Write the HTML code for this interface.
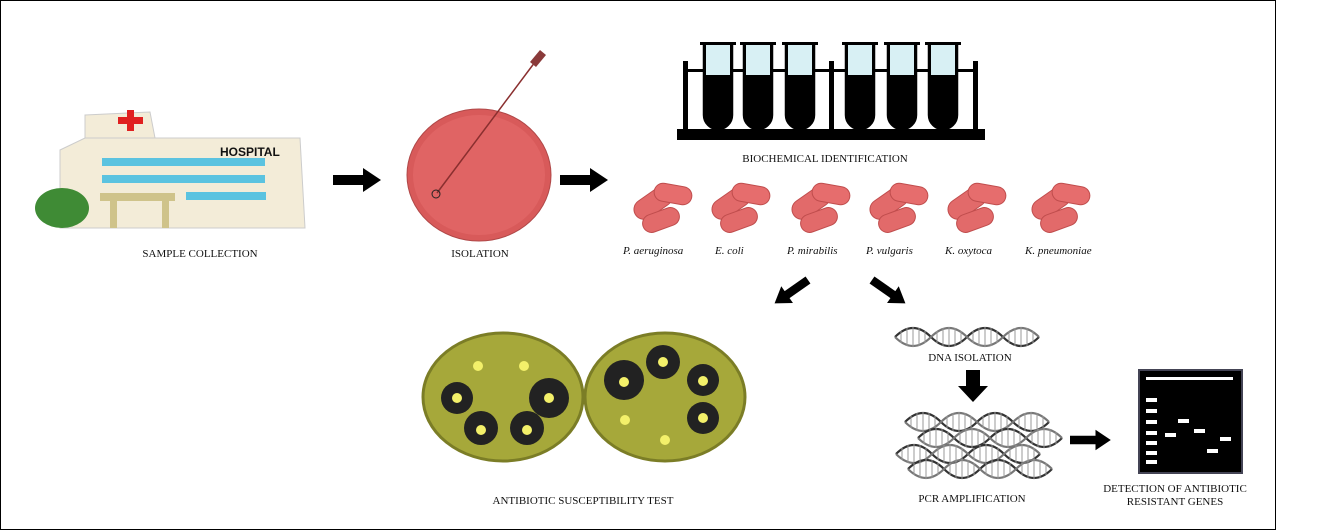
<!DOCTYPE html>
<html><head><style>
html,body{margin:0;padding:0;background:#fff;}
svg{display:block}
text{font-family:"Liberation Serif",serif;fill:#111}
</style></head><body>
<svg width="1328" height="531" viewBox="0 0 1328 531" xmlns="http://www.w3.org/2000/svg">
<defs>
<g id="bac">
 <rect x="-30" y="-14" width="42" height="20" rx="10" fill="#e26a6a" stroke="#c04d4d" transform="rotate(-35 -9 -4)"/>
 <rect x="-8" y="-22" width="38" height="18" rx="9" fill="#e66d6d" stroke="#c04d4d" transform="rotate(10 11 -13)"/>
 <rect x="-20" y="4" width="38" height="18" rx="9" fill="#e26a6a" stroke="#c04d4d" transform="rotate(-20 -1 13)"/>
</g>
<g id="dna" fill="none" stroke-width="2.2">
 <path d="M0 10 Q 18 -8 36 10 T 72 10 T 108 10 T 144 10" stroke="#333"/>
 <path d="M0 10 Q 18 28 36 10 T 72 10 T 108 10 T 144 10" stroke="#777"/>
 <path d="M6 4v12M12 1v18M18 0v20M24 1v18M30 4v12M42 4v12M48 1v18M54 0v20M60 1v18M66 4v12M78 4v12M84 1v18M90 0v20M96 1v18M102 4v12M114 4v12M120 1v18M126 0v20M132 1v18M138 4v12" stroke="#999" stroke-width="1"/>
</g>
<g id="arr"><polygon points="0,-5 30,-5 30,-12 48,0 30,12 30,5 0,5" fill="#000"/></g>
</defs>
<rect x="0.5" y="0.5" width="1275" height="529" fill="#fff" stroke="#000"/>

<!-- hospital -->
<polygon points="85,115 150,112 155,138 85,140" fill="#f3ecd8" stroke="#ccc"/>
<polygon points="60,150 85,138 300,138 305,228 60,228" fill="#f3ecd8" stroke="#ccc"/>
<rect x="118" y="117" width="25" height="7" fill="#e02020"/><rect x="127" y="110" width="7" height="21" fill="#e02020"/>
<text x="220" y="156" style="font-family:'Liberation Sans',sans-serif;font-weight:bold" font-size="12">HOSPITAL</text>
<rect x="102" y="158" width="163" height="8" fill="#5bc3e0"/>
<rect x="102" y="175" width="163" height="8" fill="#5bc3e0"/>
<rect x="186" y="192" width="80" height="8" fill="#5bc3e0"/>
<rect x="100" y="193" width="75" height="8" fill="#cfc38a"/>
<rect x="110" y="200" width="7" height="28" fill="#cfc38a"/><rect x="162" y="200" width="7" height="28" fill="#cfc38a"/>
<ellipse cx="62" cy="208" rx="27" ry="20" fill="#3f8b35"/>
<text x="200" y="257" font-size="11" text-anchor="middle">SAMPLE COLLECTION</text>

<use href="#arr" x="333" y="180"/>

<!-- petri -->
<ellipse cx="479" cy="175" rx="72" ry="66" fill="#d85a5a" stroke="#b04848"/>
<ellipse cx="479" cy="175" rx="66" ry="60" fill="#e06464"/>
<line x1="437" y1="193" x2="538" y2="58" stroke="#8a2f2f" stroke-width="1.5"/>
<polygon points="530,62 540,50 546,55 536,67" fill="#8a3a3a"/>
<circle cx="436" cy="194" r="4" fill="none" stroke="#222"/>
<text x="480" y="257" font-size="11" text-anchor="middle">ISOLATION</text>

<use href="#arr" x="560" y="180"/>

<!-- tubes -->
<rect x="677" y="129" width="308" height="11" fill="#000"/>
<rect x="683" y="61" width="5" height="70" fill="#000"/>
<rect x="829" y="61" width="5" height="70" fill="#000"/>
<rect x="973" y="61" width="5" height="70" fill="#000"/>
<rect x="683" y="69" width="295" height="3" fill="#000"/>
<g fill="#000">
<rect x="700" y="42" width="36" height="3"/><rect x="740" y="42" width="36" height="3"/><rect x="782" y="42" width="36" height="3"/>
<rect x="842" y="42" width="36" height="3"/><rect x="884" y="42" width="36" height="3"/><rect x="925" y="42" width="36" height="3"/>
</g>
<g stroke="#000" stroke-width="2.5">
<path d="M704 45v70a14 14 0 0 0 28 0v-70z" fill="#000"/><path d="M744 45v70a14 14 0 0 0 28 0v-70z" fill="#000"/><path d="M786 45v70a14 14 0 0 0 28 0v-70z" fill="#000"/>
<path d="M846 45v70a14 14 0 0 0 28 0v-70z" fill="#000"/><path d="M888 45v70a14 14 0 0 0 28 0v-70z" fill="#000"/><path d="M929 45v70a14 14 0 0 0 28 0v-70z" fill="#000"/>
</g>
<g fill="#d8f0f4">
<rect x="706" y="45" width="24" height="30"/><rect x="746" y="45" width="24" height="30"/><rect x="788" y="45" width="24" height="30"/>
<rect x="848" y="45" width="24" height="30"/><rect x="890" y="45" width="24" height="30"/><rect x="931" y="45" width="24" height="30"/>
</g>
<text x="825" y="162" font-size="11" text-anchor="middle">BIOCHEMICAL IDENTIFICATION</text>

<!-- bacteria -->
<use href="#bac" x="662" y="207"/><use href="#bac" x="740" y="207"/><use href="#bac" x="820" y="207"/>
<use href="#bac" x="898" y="207"/><use href="#bac" x="976" y="207"/><use href="#bac" x="1060" y="207"/>
<g font-style="italic" font-size="11">
<text x="623" y="254">P. aeruginosa</text><text x="715" y="254">E. coli</text><text x="787" y="254">P. mirabilis</text>
<text x="866" y="254">P. vulgaris</text><text x="945" y="254">K. oxytoca</text><text x="1025" y="254">K. pneumoniae</text>
</g>

<use href="#arr" transform="translate(808,280) rotate(145) scale(0.85)"/>
<use href="#arr" transform="translate(872,280) rotate(35) scale(0.85)"/>

<!-- plates -->
<ellipse cx="503" cy="397" rx="80" ry="64" fill="#a6a83a" stroke="#7b7d26" stroke-width="3"/>
<ellipse cx="665" cy="397" rx="80" ry="64" fill="#a6a83a" stroke="#7b7d26" stroke-width="3"/>
<g fill="#222">
<circle cx="457" cy="398" r="16"/><circle cx="549" cy="398" r="20"/><circle cx="481" cy="428" r="17"/><circle cx="527" cy="428" r="17"/>
<circle cx="624" cy="380" r="20"/><circle cx="663" cy="362" r="17"/><circle cx="703" cy="380" r="16"/><circle cx="703" cy="418" r="16"/>
</g>
<g fill="#f3f06a">
<circle cx="478" cy="366" r="5"/><circle cx="524" cy="366" r="5"/><circle cx="457" cy="398" r="5"/><circle cx="549" cy="398" r="5"/><circle cx="481" cy="430" r="5"/><circle cx="527" cy="430" r="5"/>
<circle cx="624" cy="382" r="5"/><circle cx="663" cy="362" r="5"/><circle cx="703" cy="381" r="5"/><circle cx="703" cy="418" r="5"/><circle cx="625" cy="420" r="5"/><circle cx="665" cy="440" r="5"/>
</g>
<text x="583" y="504" font-size="11" text-anchor="middle">ANTIBIOTIC SUSCEPTIBILITY TEST</text>

<!-- DNA -->
<use href="#dna" x="895" y="327"/>
<text x="970" y="361" font-size="11" text-anchor="middle">DNA ISOLATION</text>
<polygon points="966,370 980,370 980,386 988,386 973,402 958,386 966,386" fill="#000"/>
<use href="#dna" x="905" y="412"/>
<use href="#dna" x="918" y="428"/>
<use href="#dna" x="896" y="444"/>
<use href="#dna" x="908" y="459"/>
<text x="972" y="502" font-size="11" text-anchor="middle">PCR AMPLIFICATION</text>

<use href="#arr" transform="translate(1070,440) scale(0.85)"/>

<!-- gel -->
<rect x="1139" y="370" width="103" height="103" fill="#000" stroke="#445" stroke-width="2"/>
<g fill="#fff">
<rect x="1146" y="377" width="87" height="3"/>
<rect x="1146" y="398" width="11" height="4"/><rect x="1146" y="409" width="11" height="4"/><rect x="1146" y="420" width="11" height="4"/>
<rect x="1146" y="431" width="11" height="4"/><rect x="1146" y="441" width="11" height="4"/><rect x="1146" y="451" width="11" height="4"/><rect x="1146" y="460" width="11" height="4"/>
<rect x="1165" y="433" width="11" height="4"/><rect x="1178" y="419" width="11" height="4"/><rect x="1194" y="429" width="11" height="4"/>
<rect x="1207" y="449" width="11" height="4"/><rect x="1220" y="437" width="11" height="4"/>
</g>
<text x="1175" y="492" font-size="11" text-anchor="middle">DETECTION  OF ANTIBIOTIC</text>
<text x="1175" y="505" font-size="11" text-anchor="middle">RESISTANT GENES</text>
</svg>
</body></html>
